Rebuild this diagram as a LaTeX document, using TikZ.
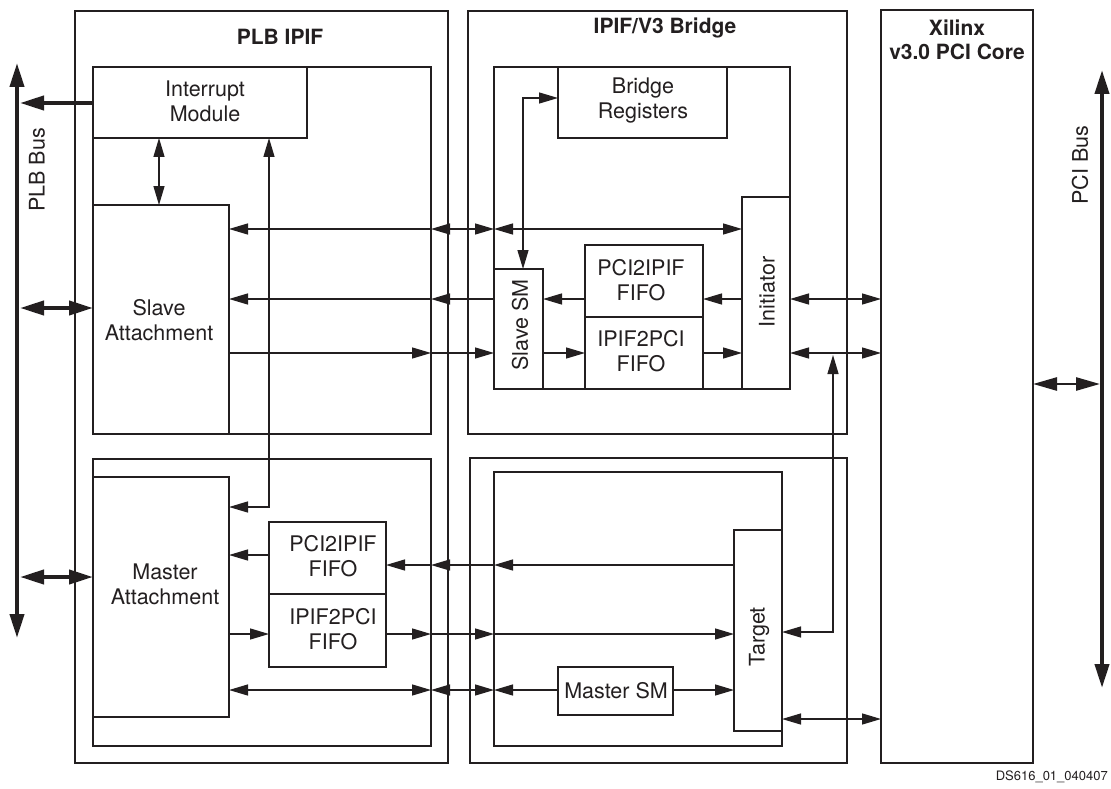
\documentclass[tikz,border=0pt]{standalone}
\usepackage{fontspec}
\setmainfont{TeX Gyre Heros}
\usetikzlibrary{arrows.meta,fit}
\definecolor{ink}{HTML}{231F20}
\begin{document}
\begin{tikzpicture}[x=1pt,y=-1pt,
  box/.style={draw=ink, line width=2.5pt, inner sep=0pt, outer sep=0pt},
  conn/.style={draw=ink, line width=1.3pt, >={Triangle[length=19pt,width=11pt]}},
  bus/.style={draw=ink, line width=4pt, >={Triangle[length=24pt,width=14pt]}},
  pcilink/.style={draw=ink, line width=2.6pt, >={Triangle[length=24pt,width=13pt]}},
  lab/.style={font=\fontsize{21.5}{25}\selectfont, text=ink, align=center, inner sep=0pt},
  ttl/.style={font=\bfseries\fontsize{21}{24}\selectfont, text=ink, align=center, inner sep=0pt},
]
\useasboundingbox (0,0) rectangle (1111,789);
\fill[white] (0,0) rectangle (1111,789);

% ---------- boxes ----------
\node[box, fit={(75,11)(448,763)}] (plbout) {};
\node[box, fit={(93,67)(431,434)}] (plbup) {};
\node[box, fit={(93,67)(307,138)}] (intr) {};
\node[box, fit={(93,205)(229,434)}] (sa) {};
\node[box, fit={(93,459)(431,746)}] (plblo) {};
\node[box, fit={(93,477)(229,717)}] (ma) {};
\node[box, fit={(269,522)(386,594)}] (mp2i) {};
\node[box, fit={(269,594)(386,667)}] (mi2p) {};
\node[box, fit={(468,11)(847,434)}] (brout) {};
\node[box, fit={(494,67)(790,389)}] (brup) {};
\node[box, fit={(558,67)(727,138)}] (breg) {};
\node[box, fit={(494,269)(543,389)}] (ssm) {};
\node[box, fit={(585,245)(703,317)}] (bp2i) {};
\node[box, fit={(585,317)(703,389)}] (bi2p) {};
\node[box, fit={(742,197)(790,389)}] (init) {};
\node[box, fit={(470,458)(847,763)}] (brout2) {};
\node[box, fit={(494,472)(782,746)}] (brlo) {};
\node[box, fit={(558,667)(673,715)}] (msm) {};
\node[box, fit={(734,530)(782,731)}] (tgt) {};
\node[box, fit={(881,10)(1033,763)}] (pci) {};

% ---------- labels ----------
\node[ttl] (tplb) at (280,37) {PLB IPIF};
\node[ttl] (tbr) at (665,28) {IPIF/V3 Bridge};
\node[ttl] (tpci) at (957,40) {Xilinx\\v3.0 PCI Core};
\node[lab] (lintr) at (205,101) {Interrupt\\Module};
\node[lab] (lbreg) at (643,101) {Bridge\\Registers};
\node[lab] (lsa) at (159,320) {Slave\\Attachment};
\node[lab] (lma) at (165,584) {Master\\Attachment};
\node[lab] (lmp2i) at (333,556) {PCI2IPIF\\FIFO};
\node[lab] (lmi2p) at (333,629) {IPIF2PCI\\FIFO};
\node[lab] (lbp2i) at (641,280) {PCI2IPIF\\FIFO};
\node[lab] (lbi2p) at (641,351) {IPIF2PCI\\FIFO};
\node[lab] (lmsm) at (616,691) {Master SM};
\node[lab, rotate=90] (lssm) at (520,325) {Slave SM};
\node[lab, rotate=90] (linit) at (767,292) {Initiator};
\node[lab, rotate=90] (ltgt) at (759,637) {Target};
\node[lab, rotate=90] (lplb) at (37,170) {PLB Bus};
\node[lab, rotate=90] (lpcib) at (1080,165) {PCI Bus};
\node[font=\fontsize{13}{15}\selectfont, text=ink, anchor=east, inner sep=0pt] (ds) at (1108,777) {DS616\_01\_040407};

% ---------- buses ----------
\coordinate (plbA) at (17,63);
\coordinate (plbB) at (17,638);
\coordinate (plbE) at (20,0);
\draw[bus,<->] (plbA) -- (plbB);
\draw[bus,->] (intr.west |- 0,103) -- (plbE |- 0,103);
\draw[bus,<->] (plbE |- 0,308) -- (sa.west |- 0,308);
\draw[bus,<->] (plbE |- 0,577) -- (ma.west |- 0,577);

\coordinate (pciA) at (1102,70);
\coordinate (pciB) at (1102,688);
\coordinate (pciE) at (1100,0);
\draw[bus,<->] (pciA) -- (pciB);
\draw[pcilink,<->] (pci.east |- 0,384) -- (pciE |- 0,384);

% ---------- PLB IPIF internal ----------
\draw[conn,<->] (intr.south -| 159,0) -- (sa.north -| 159,0);
\draw[conn,<->] (ma.east |- 0,507) -| (intr.south -| 269,0);

% ---------- slave side ----------
% y = 229
\draw[conn,->] (plbup.east |- 0,229) -- (sa.east |- 0,229);
\draw[conn,<->] (plbup.east |- 0,229) -- (brup.west |- 0,229);
\draw[conn,<->] (brup.west |- 0,229) -- (init.west |- 0,229);
% y = 299
\draw[conn,->] (ssm.west |- 0,299) -- (plbup.east |- 0,299);
\draw[conn,->] (plbup.east |- 0,299) -- (sa.east |- 0,299);
\draw[conn,->] (bp2i.west |- 0,299) -- (ssm.east |- 0,299);
\draw[conn,->] (init.west |- 0,299) -- (bp2i.east |- 0,299);
% y = 353
\draw[conn,->] (sa.east |- 0,353) -- (plbup.east |- 0,353);
\draw[conn,->] (plbup.east |- 0,353) -- (ssm.west |- 0,353);
\draw[conn,->] (ssm.east |- 0,353) -- (bi2p.west |- 0,353);
\draw[conn,->] (bi2p.east |- 0,353) -- (init.west |- 0,353);
% bridge registers
\draw[conn,<->] (breg.west |- 0,98) -| (ssm.north -| 523,0);
% initiator to PCI core
\draw[conn,<->] (init.east |- 0,299) -- (pci.west |- 0,299);
\draw[conn,<->] (init.east |- 0,353) -- (pci.west |- 0,353);
\coordinate (jn) at (833,355);
\draw[conn,<->] (tgt.east |- 0,632) -| (jn);

% ---------- master side ----------
% y = 555
\draw[conn,->] (mp2i.west |- 0,555) -- (ma.east |- 0,555);
% y = 565
\draw[conn,->] (tgt.west |- 0,565) -- (brlo.west |- 0,565);
\draw[conn,->] (brlo.west |- 0,565) -- (plblo.east |- 0,565);
\draw[conn,->] (plblo.east |- 0,565) -- (mp2i.east |- 0,565);
% y = 634
\draw[conn,->] (ma.east |- 0,634) -- (mi2p.west |- 0,634);
\draw[conn,->] (mi2p.east |- 0,634) -- (plblo.east |- 0,634);
\draw[conn,->] (plblo.east |- 0,634) -- (brlo.west |- 0,634);
\draw[conn,->] (brlo.west |- 0,634) -- (tgt.west |- 0,634);
% y = 690
\draw[conn,<->] (ma.east |- 0,690) -- (plblo.east |- 0,690);
\draw[conn,<->] (plblo.east |- 0,690) -- (brlo.west |- 0,690);
\draw[conn,->] (msm.west |- 0,690) -- (brlo.west |- 0,690);
\draw[conn,->] (msm.east |- 0,690) -- (tgt.west |- 0,690);
% target to PCI core
\draw[conn,<->] (tgt.east |- 0,719) -- (pci.west |- 0,719);
\end{tikzpicture}
\end{document}
